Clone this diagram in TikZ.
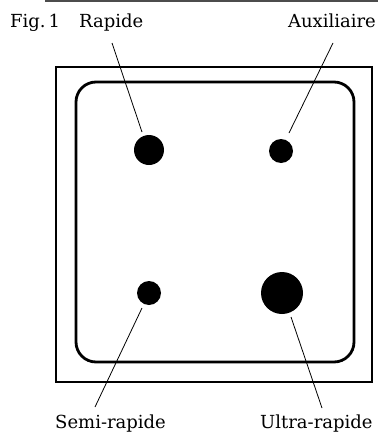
\documentclass[tikz,border=0pt]{standalone}
\usepackage{fontspec}
\setmainfont{DejaVu Serif}
\begin{document}
\begin{tikzpicture}[x=1pt,y=-1pt,
  lbl/.style={inner sep=0pt,font=\fontsize{18}{22}\selectfont},
  dot/.style={circle,fill=black,draw=none,inner sep=0pt},
  leader/.style={line width=0.8pt},
  outerbox/.style={line width=1.8pt},
  innerbox/.style={line width=2.8pt,rounded corners=20pt}]
\useasboundingbox (0,0) rectangle (378,434);
% top border remnant
\draw[line width=1.2pt,black!70] (45,1) -- (378,1);
% labels
\node[lbl,anchor=base west] (fig) at (10,27) {Fig.\,1};
\node[lbl,anchor=base west] (rapide) at (79,27) {Rapide};
\node[lbl,anchor=base east] (aux) at (376,27) {Auxiliaire};
\node[lbl,anchor=base west] (semi) at (55,428) {Semi-rapide};
\node[lbl,anchor=base west] (ultra) at (260,428) {Ultra-rapide};
% boxes
\draw[outerbox] (56,67) rectangle (372,382);
\draw[innerbox] (76,82) rectangle (354,362);
% burners
\node[dot,minimum size=30pt] (r) at (149,150) {};
\node[dot,minimum size=24pt] (a) at (281,151) {};
\node[dot,minimum size=24pt] (s) at (149,293) {};
\node[dot,minimum size=42pt] (u) at (282,293) {};
% leader ends
\coordinate (r1) at (112,43);  \coordinate (r2) at (142,132);
\coordinate (a1) at (333,43);  \coordinate (a2) at (289,133);
\coordinate (s1) at (142,308); \coordinate (s2) at (95,407);
\coordinate (u1) at (291,317); \coordinate (u2) at (322,408);
\draw[leader] (r1) -- (r2);
\draw[leader] (a1) -- (a2);
\draw[leader] (s1) -- (s2);
\draw[leader] (u1) -- (u2);
\end{tikzpicture}
\end{document}
